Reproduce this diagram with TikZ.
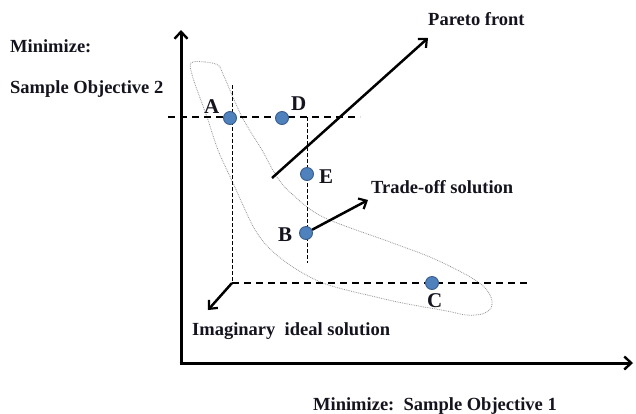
\documentclass[tikz,border=0pt]{standalone}
\usepackage{fontspec}
\setmainfont{Liberation Serif}
\usetikzlibrary{arrows.meta}
\definecolor{txt}{HTML}{14141E}
\definecolor{dotfill}{HTML}{4F81BD}
\definecolor{dotline}{HTML}{385D8A}
\tikzset{
  lbl/.style={inner sep=0pt, anchor=base west, text=txt, font=\fontsize{18.5}{20}\selectfont\bfseries},
  ptlbl/.style={inner sep=0pt, anchor=base west, text=txt, font=\fontsize{21}{22}\selectfont\bfseries},
  pt/.style={circle, fill=dotfill, draw=dotline, line width=0.9pt, minimum size=13pt, inner sep=0pt},
  axis/.style={line width=3pt, -{Straight Barb[length=7pt,width=13pt,line width=2.4pt]}},
  arr/.style={line width=2.5pt, -{Straight Barb[length=6.5pt,width=12pt,line width=2.2pt]}},
  bigdash/.style={line width=1.6pt, dash pattern=on 7pt off 5pt},
  finedash/.style={line width=1pt, dash pattern=on 3.5pt off 2.5pt},
  front/.style={gray!85, line width=0.8pt, densely dotted}
}
\begin{document}
\begin{tikzpicture}[x=1pt,y=-1pt]
\useasboundingbox (0,0) rectangle (636,413);
% Pareto region
\draw[front] plot[smooth cycle, tension=0.55] coordinates {
 (191,63) (205,62) (218,65) (223,74) (242,117) (262,150) (277,177) (292,194)
 (323,217) (390,242) (430,257) (463,273) (482,285) (491,297) (491,308) (482,314)
 (466,315) (447,311) (413,305) (380,298) (323,283) (283,260) (257,233)
 (233,183) (218,150) (207,117) (193,78)};
% coordinates
\coordinate (ygap) at (168,117);
\coordinate (yend) at (360,117);
\coordinate (ideal) at (232,283);
\coordinate (atop) at (232,85);
\coordinate (dcol) at (307,117);
\coordinate (dbot) at (307,263);
\coordinate (cend) at (530,283);
\coordinate (origin) at (181,363);
\coordinate (ytip) at (181,30);
\coordinate (xtip) at (633,363);
% dashed guides
\draw[bigdash] (ygap) -- (yend);
\draw[bigdash] (ideal) -- (cend);
\draw[finedash] (atop) -- (ideal);
\draw[finedash] (dcol) -- (dbot);
% axes
\draw[axis] (origin) -- (ytip);
\draw[axis] ([xshift=-1.5pt]origin) -- (xtip);
% points
\node[pt] (A) at (230,118) {};
\node[pt] (D) at (282,118) {};
\node[pt] (E) at (307,174) {};
\node[pt] (B) at (306,233) {};
\node[pt] (C) at (432,283) {};
% point labels
\node[ptlbl] (la) at (204,113) {A};
\node[ptlbl] (ld) at (291,110) {D};
\node[ptlbl] (le) at (319,183) {E};
\node[ptlbl] (lb) at (278,241) {B};
\node[ptlbl] (lc) at (427,307) {C};
% arrows
\coordinate (pf0) at (272,178);
\coordinate (pf1) at (428,38);
\draw[arr] (pf0) -- (pf1);
\coordinate (to1) at (368,200);
\draw[arr] (B) -- (to1);
\coordinate (id1) at (208,310);
\draw[arr] (ideal) -- (id1);
% texts
\node[lbl] (t1) at (10,52) {Minimize:};
\node[lbl] (t2) at (10,93) {Sample Objective 2};
\node[lbl] (t3) at (428,25) {Pareto front};
\node[lbl] (t4) at (371,193) {Trade-off solution};
\node[lbl] (t5) at (192,335) {Imaginary\ \ ideal solution};
\node[lbl] (t6) at (313,410) {Minimize:\ \ Sample Objective 1};
\end{tikzpicture}
\end{document}
